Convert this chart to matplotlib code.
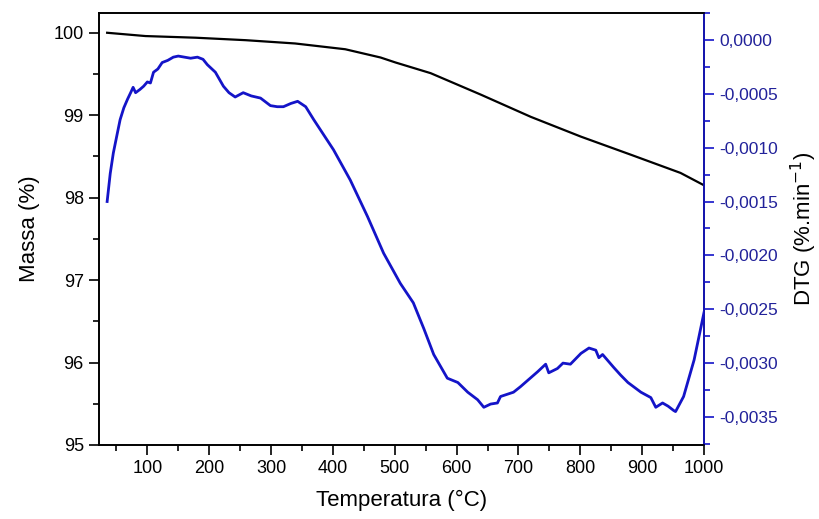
#!/usr/bin/env python3
"""TGA / DTG curve: mass loss and its derivative vs temperature."""
import matplotlib
matplotlib.use("Agg")
import matplotlib.pyplot as plt
from matplotlib.ticker import MultipleLocator, FuncFormatter

# mass curve (TG)
temp_tg = [35, 97, 178, 259, 339, 420, 477, 501, 558, 639, 720, 801, 882, 962, 1000]
massa = [100.0, 99.96, 99.94, 99.91, 99.87, 99.80, 99.70, 99.64, 99.51, 99.25,
         98.98, 98.74, 98.52, 98.30, 98.15]

# derivative curve (DTG)
temp_dtg = [35, 40, 45, 51, 56, 62, 68, 73, 77, 81, 88, 94, 100, 105, 110, 117,
            124, 133, 142, 150, 160, 170, 181, 190, 197, 210, 223, 232, 242, 255,
            268, 283, 299, 310, 320, 332, 343, 356, 369, 385, 401, 428, 456, 482,
            509, 530, 547, 563, 585, 602, 618, 634, 644, 655, 666, 671, 692, 703,
            715, 731, 744, 749, 763, 772, 784, 801, 814, 825, 830, 836, 854, 865,
            877, 898, 914, 922, 933, 942, 951, 954, 967, 984, 1000]
dtg = [-0.00150, -0.00124, -0.00105, -0.00088, -0.00074, -0.00063, -0.00055,
       -0.00049, -0.00044, -0.00049, -0.00046, -0.00043, -0.00039, -0.00040,
       -0.00030, -0.00027, -0.00021, -0.00019, -0.00016, -0.00015, -0.00016,
       -0.00017, -0.00016, -0.00018, -0.00023, -0.00030, -0.00043, -0.00049,
       -0.00053, -0.00049, -0.00052, -0.00054, -0.00061, -0.00062, -0.00062,
       -0.00059, -0.00057, -0.00062, -0.00074, -0.00088, -0.00102, -0.00130,
       -0.00164, -0.00198, -0.00226, -0.00244, -0.00268, -0.00292, -0.00314,
       -0.00318, -0.00327, -0.00334, -0.00341, -0.00338, -0.00337, -0.00331,
       -0.00327, -0.00322, -0.00316, -0.00308, -0.00301, -0.00309, -0.00305,
       -0.00300, -0.00301, -0.00291, -0.00286, -0.00288, -0.00295, -0.00292,
       -0.00304, -0.00311, -0.00318, -0.00327, -0.00332, -0.00341, -0.00337,
       -0.00340, -0.00344, -0.00345, -0.00331, -0.00297, -0.00253]

BLUE = "#1414c8"
NAVY = "#22229a"

plt.rcParams["font.family"] = ["Liberation Sans", "DejaVu Sans"]


def comma(v, pos):
    return f"{v:.4f}".replace(".", ",").replace("-0,0000", "0,0000")


def main():
    fig = plt.figure(figsize=(8.19, 5.19), dpi=100)
    ax = fig.add_axes([0.121, 0.1426, 0.7386, 0.8324])
    ax2 = ax.twinx()

    ax.plot(temp_tg, massa, color="black", lw=1.6)
    ax2.plot(temp_dtg, dtg, color=BLUE, lw=2.0)

    ax.set_xlim(22, 1000)
    ax.set_ylim(95, 100.24)
    ax2.set_ylim(-0.00376, 0.00025)

    ax.xaxis.set_major_locator(MultipleLocator(100))
    ax.xaxis.set_minor_locator(MultipleLocator(50))
    ax.yaxis.set_major_locator(MultipleLocator(1))
    ax.yaxis.set_minor_locator(MultipleLocator(0.5))
    ax2.yaxis.set_major_locator(MultipleLocator(0.0005))
    ax2.yaxis.set_minor_locator(MultipleLocator(0.00025))
    ax2.yaxis.set_major_formatter(FuncFormatter(comma))

    for a in (ax, ax2):
        for s in a.spines.values():
            s.set_linewidth(1.2)
    ax.tick_params(which="major", direction="out", length=7.5, width=1.2, labelsize=13)
    ax.tick_params(which="minor", direction="out", length=4.5, width=1.2)
    ax2.spines["right"].set_color(BLUE)
    ax2.tick_params(which="major", direction="out", length=7.5, width=1.2,
                    colors=BLUE, labelcolor=NAVY, labelsize=12.5)
    ax2.tick_params(which="minor", direction="out", length=4.5, width=1.2, colors=BLUE)

    ax.set_xlabel("Temperatura (°C)", fontsize=16, labelpad=9)
    ax.set_ylabel("Massa (%)", fontsize=16, labelpad=10)
    ax2.set_ylabel("DTG (%.min$^{-1}$)", fontsize=16, labelpad=8)

    fig.savefig("out.png", dpi=100, facecolor="white")
    plt.close(fig)


if __name__ == "__main__":
    main()
